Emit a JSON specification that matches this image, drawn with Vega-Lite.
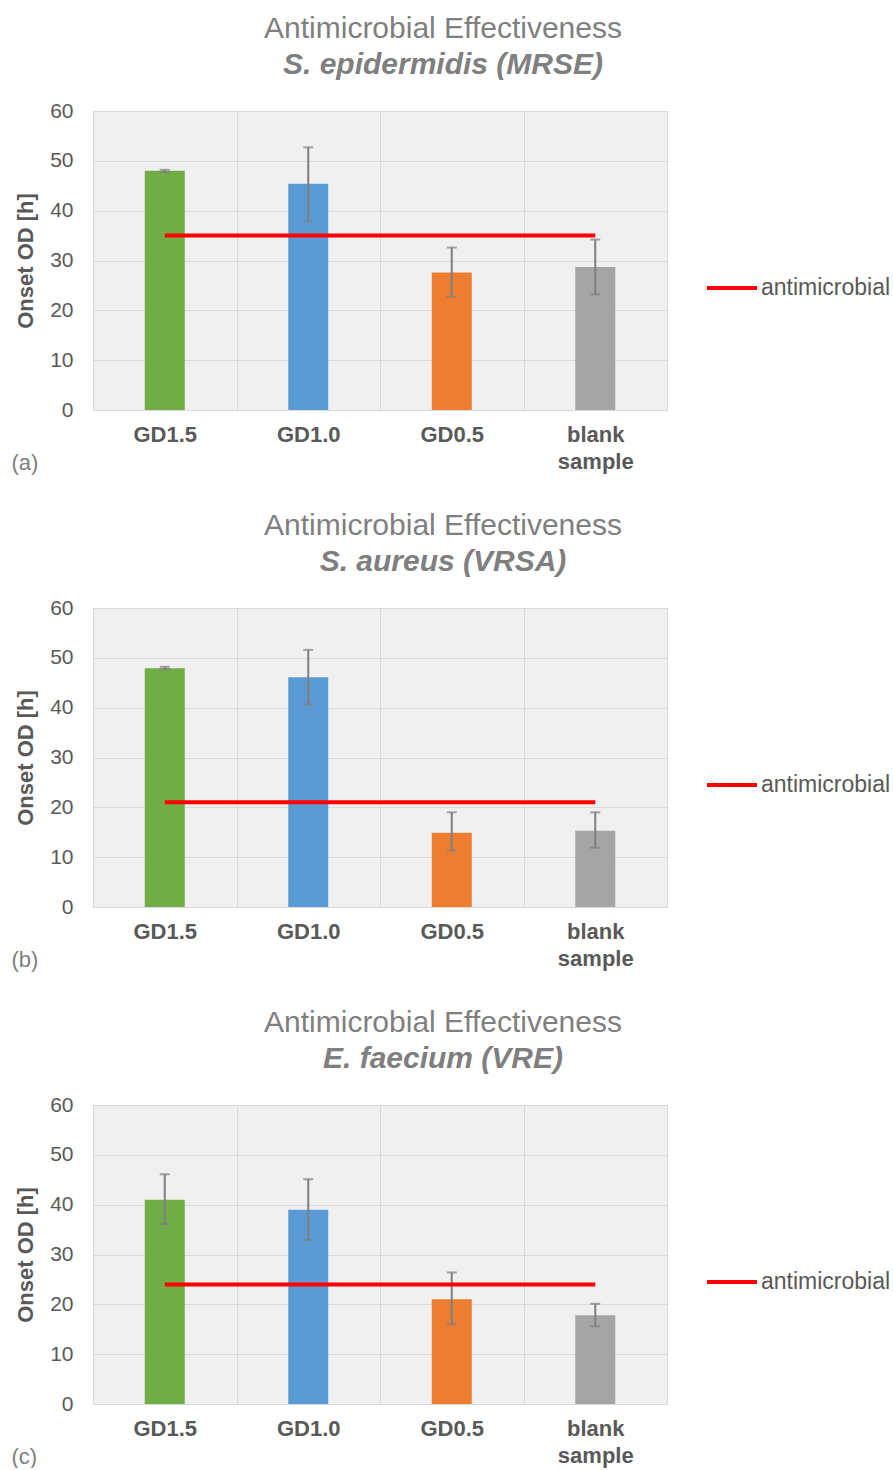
{
  "$schema": "https://vega.github.io/schema/vega-lite/v6.json",
  "padding": {"left": 10, "top": 13, "right": 0, "bottom": 0},
  "background": "white",
  "config": {
    "font": "Liberation Sans",
    "view": {"fill": "#f0f0f0", "stroke": "#d9d9d9"},
    "concat": {"spacing": 36},
    "title": {"fontSize": 30, "fontWeight": "normal", "color": "#7f7f7f", "subtitleFontSize": 30, "subtitleFontWeight": "bold", "subtitleFontStyle": "italic", "subtitleColor": "#7f7f7f", "subtitlePadding": 6, "frame": "bounds", "anchor": "middle", "offset": 20, "dx": -8},
    "axisX": {"labelFontSize": 22, "labelFontWeight": "bold", "labelColor": "#595959", "labelAngle": 0, "labelPadding": 14, "labelLineHeight": 27, "ticks": false, "domainColor": "#d9d9d9", "grid": true, "gridColor": "#d9d9d9", "tickBand": "extent", "titleFontSize": 22, "titleFontWeight": "normal", "titleColor": "#7f7f7f", "titleAnchor": "start", "titleAlign": "left", "titleBaseline": "middle", "titleX": -82, "titleY": 52},
    "axisY": {"labelFontSize": 21, "labelColor": "#595959", "labelPadding": 20, "ticks": false, "domain": false, "grid": true, "gridColor": "#d9d9d9", "titleFontSize": 22, "titleFontWeight": "bold", "titleColor": "#595959", "titlePadding": 12},
    "legend": {"title": null, "orient": "none", "legendX": 612, "legendY": 150, "symbolType": "stroke", "symbolSize": 2500, "symbolStrokeWidth": 4, "labelFontSize": 23, "labelColor": "#595959", "labelOffset": 2}
  },
  "datasets": {
    "bars": [
      {"panel": "a", "group": "GD1.5", "value": 48, "lo": 47.7, "hi": 48.2, "thr": 35},
      {"panel": "a", "group": "GD1.0", "value": 45.4, "lo": 37.9, "hi": 52.7, "thr": 35},
      {"panel": "a", "group": "GD0.5", "value": 27.6, "lo": 22.7, "hi": 32.6, "thr": 35},
      {"panel": "a", "group": "blank sample", "value": 28.7, "lo": 23.2, "hi": 34.2, "thr": 35},
      {"panel": "b", "group": "GD1.5", "value": 47.9, "lo": 47.7, "hi": 48.2, "thr": 21},
      {"panel": "b", "group": "GD1.0", "value": 46.1, "lo": 40.6, "hi": 51.6, "thr": 21},
      {"panel": "b", "group": "GD0.5", "value": 14.9, "lo": 11.3, "hi": 19, "thr": 21},
      {"panel": "b", "group": "blank sample", "value": 15.3, "lo": 11.9, "hi": 19, "thr": 21},
      {"panel": "c", "group": "GD1.5", "value": 41, "lo": 36.1, "hi": 46.1, "thr": 24},
      {"panel": "c", "group": "GD1.0", "value": 39, "lo": 32.9, "hi": 45.1, "thr": 24},
      {"panel": "c", "group": "GD0.5", "value": 21, "lo": 16, "hi": 26.4, "thr": 24},
      {"panel": "c", "group": "blank sample", "value": 17.8, "lo": 15.6, "hi": 20.1, "thr": 24}
    ]
  },
  "vconcat": [
    {
      "title": {"text": "Antimicrobial Effectiveness", "subtitle": "S. epidermidis (MRSE)"},
      "width": 574, "height": 299,
      "data": {"name": "bars"},
      "transform": [{"filter": "datum.panel == 'a'"}],
      "encoding": {"x": {"field": "group", "type": "nominal", "sort": ["GD1.5", "GD1.0", "GD0.5", "blank sample"], "scale": {"paddingInner": 0, "paddingOuter": 0}, "axis": {"title": "(a)", "labelExpr": "datum.value == 'blank sample' ? ['blank', 'sample'] : datum.value"}}},
      "resolve": {"scale": {"color": "independent"}},
      "layer": [
        {"mark": {"type": "bar", "size": 40}, "encoding": {"y": {"field": "value", "type": "quantitative", "scale": {"domain": [0, 60]}, "axis": {"title": "Onset OD [h]", "values": [0, 10, 20, 30, 40, 50, 60]}}, "color": {"field": "group", "type": "nominal", "scale": {"domain": ["GD1.5", "GD1.0", "GD0.5", "blank sample"], "range": ["#70ad47", "#5b9bd5", "#ed7d31", "#a5a5a5"]}, "legend": null}}},
        {"mark": {"type": "rule", "color": "#7f7f7f", "strokeWidth": 2}, "encoding": {"y": {"field": "lo", "type": "quantitative"}, "y2": {"field": "hi"}}},
        {"mark": {"type": "tick", "color": "#7f7f7f", "thickness": 2, "size": 10}, "encoding": {"y": {"field": "lo", "type": "quantitative"}}},
        {"mark": {"type": "tick", "color": "#7f7f7f", "thickness": 2, "size": 10}, "encoding": {"y": {"field": "hi", "type": "quantitative"}}},
        {"mark": {"type": "line", "strokeWidth": 4}, "encoding": {"y": {"field": "thr", "type": "quantitative"}, "color": {"datum": "antimicrobial", "type": "nominal", "scale": {"range": ["#ff0000"]}}}}
      ]
    },
    {
      "title": {"text": "Antimicrobial Effectiveness", "subtitle": "S. aureus (VRSA)"},
      "width": 574, "height": 299,
      "data": {"name": "bars"},
      "transform": [{"filter": "datum.panel == 'b'"}],
      "encoding": {"x": {"field": "group", "type": "nominal", "sort": ["GD1.5", "GD1.0", "GD0.5", "blank sample"], "scale": {"paddingInner": 0, "paddingOuter": 0}, "axis": {"title": "(b)", "labelExpr": "datum.value == 'blank sample' ? ['blank', 'sample'] : datum.value"}}},
      "resolve": {"scale": {"color": "independent"}},
      "layer": [
        {"mark": {"type": "bar", "size": 40}, "encoding": {"y": {"field": "value", "type": "quantitative", "scale": {"domain": [0, 60]}, "axis": {"title": "Onset OD [h]", "values": [0, 10, 20, 30, 40, 50, 60]}}, "color": {"field": "group", "type": "nominal", "scale": {"domain": ["GD1.5", "GD1.0", "GD0.5", "blank sample"], "range": ["#70ad47", "#5b9bd5", "#ed7d31", "#a5a5a5"]}, "legend": null}}},
        {"mark": {"type": "rule", "color": "#7f7f7f", "strokeWidth": 2}, "encoding": {"y": {"field": "lo", "type": "quantitative"}, "y2": {"field": "hi"}}},
        {"mark": {"type": "tick", "color": "#7f7f7f", "thickness": 2, "size": 10}, "encoding": {"y": {"field": "lo", "type": "quantitative"}}},
        {"mark": {"type": "tick", "color": "#7f7f7f", "thickness": 2, "size": 10}, "encoding": {"y": {"field": "hi", "type": "quantitative"}}},
        {"mark": {"type": "line", "strokeWidth": 4}, "encoding": {"y": {"field": "thr", "type": "quantitative"}, "color": {"datum": "antimicrobial", "type": "nominal", "scale": {"range": ["#ff0000"]}}}}
      ]
    },
    {
      "title": {"text": "Antimicrobial Effectiveness", "subtitle": "E. faecium (VRE)"},
      "width": 574, "height": 299,
      "data": {"name": "bars"},
      "transform": [{"filter": "datum.panel == 'c'"}],
      "encoding": {"x": {"field": "group", "type": "nominal", "sort": ["GD1.5", "GD1.0", "GD0.5", "blank sample"], "scale": {"paddingInner": 0, "paddingOuter": 0}, "axis": {"title": "(c)", "labelExpr": "datum.value == 'blank sample' ? ['blank', 'sample'] : datum.value"}}},
      "resolve": {"scale": {"color": "independent"}},
      "layer": [
        {"mark": {"type": "bar", "size": 40}, "encoding": {"y": {"field": "value", "type": "quantitative", "scale": {"domain": [0, 60]}, "axis": {"title": "Onset OD [h]", "values": [0, 10, 20, 30, 40, 50, 60]}}, "color": {"field": "group", "type": "nominal", "scale": {"domain": ["GD1.5", "GD1.0", "GD0.5", "blank sample"], "range": ["#70ad47", "#5b9bd5", "#ed7d31", "#a5a5a5"]}, "legend": null}}},
        {"mark": {"type": "rule", "color": "#7f7f7f", "strokeWidth": 2}, "encoding": {"y": {"field": "lo", "type": "quantitative"}, "y2": {"field": "hi"}}},
        {"mark": {"type": "tick", "color": "#7f7f7f", "thickness": 2, "size": 10}, "encoding": {"y": {"field": "lo", "type": "quantitative"}}},
        {"mark": {"type": "tick", "color": "#7f7f7f", "thickness": 2, "size": 10}, "encoding": {"y": {"field": "hi", "type": "quantitative"}}},
        {"mark": {"type": "line", "strokeWidth": 4}, "encoding": {"y": {"field": "thr", "type": "quantitative"}, "color": {"datum": "antimicrobial", "type": "nominal", "scale": {"range": ["#ff0000"]}}}}
      ]
    }
  ]
}
